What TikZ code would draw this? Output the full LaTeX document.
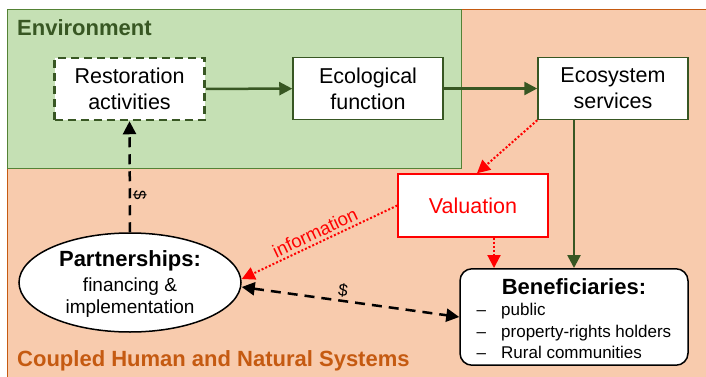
\documentclass[tikz,border=0pt]{standalone}
\usepackage{fontspec}
\setmainfont{Liberation Sans}
\usetikzlibrary{arrows.meta,shapes.geometric}

\definecolor{envgreen}{HTML}{C5E0B4}
\definecolor{envline}{HTML}{548235}
\definecolor{darkgreen}{HTML}{385723}
\definecolor{chnsfill}{HTML}{F8CBAD}
\definecolor{chnstext}{HTML}{C55A11}

\begin{document}
\begin{tikzpicture}[
    x=1pt, y=-1pt,
    >={Triangle[length=13pt,width=13pt]},
    procbox/.style={rectangle, draw=darkgreen, line width=1.5pt, fill=white, minimum width=150pt, minimum height=62pt, inner sep=0pt, align=center, font=\fontsize{21.5}{26}\selectfont},
    flow/.style={->, draw=darkgreen, line width=2.5pt},
    money/.style={line width=2.5pt, dash pattern=on 10pt off 7pt},
    info/.style={->, red, line width=2pt, dash pattern=on 2pt off 2pt},
    syslabel/.style={font=\fontsize{22}{26}\selectfont\bfseries, anchor=west, inner sep=0pt},
    dollar/.style={font=\fontsize{17}{20}\selectfont, sloped, inner sep=2pt}
]
\useasboundingbox (0,0) rectangle (706,377);

% Systeme: Mensch und Natur / Umwelt
\fill[chnsfill] (7,10) rectangle (706,377);
\draw[chnstext, line width=1pt] (7,377) -- (7,10) -- (706,10);
\filldraw[fill=envgreen, draw=envline, line width=1pt] (7,10) rectangle (461,168);

\node[syslabel, text=darkgreen] (envlabel) at (17,28) {Environment};
\node[syslabel, text=chnstext] (chnslabel) at (17,361) {Coupled Human and Natural Systems};

% Kette der Oekosystemleistungen
\node[procbox, dash pattern=on 8pt off 5pt, line width=2.5pt] (restoration) at (129.5,89) {Restoration\\activities};
\node[procbox] (ecofunc) at (368,88.5) {Ecological\\function};
\node[procbox] (ecoserv) at (613,88.5) {Ecosystem\\services};
\node[procbox, draw=red, text=red, minimum height=63pt] (valuation) at (473,205.5) {Valuation};

% Akteure
\node[ellipse, draw, line width=1.5pt, fill=white, minimum width=222pt, minimum height=99pt, inner sep=0pt, align=center, font=\fontsize{19}{22.5}\selectfont] (partners) at (130,282.5)
  {\rule{0pt}{19pt}{\fontsize{22}{22.5}\selectfont\bfseries Partnerships:}\\[2pt]financing \&\\implementation};
\node[rectangle, rounded corners=12pt, draw, line width=1.5pt, fill=white, minimum width=228pt, minimum height=96pt, inner sep=0pt, align=center, font=\fontsize{17}{21.5}\selectfont] (benef) at (574,317)
  {\rule{0pt}{26pt}{\fontsize{22}{21.5}\selectfont\bfseries Beneficiaries:}\\[-0.5pt]
   \begin{tabular}[t]{@{}l@{\hspace{15pt}}l@{}}
   --&public\\
   --&property-rights holders\\
   --&Rural communities
   \end{tabular}};

% Pfeile
\draw[flow] (restoration) -- (ecofunc);
\draw[flow] (ecofunc) -- (ecoserv);
\draw[flow] (benef.north |- ecoserv.south) -- (benef.north);

\draw[info] (ecoserv.south west) -- ([xshift=4pt]valuation.north);
\draw[info] ([xshift=21pt]valuation.south) -- ([xshift=21pt]valuation.south |- benef.north);
\draw[info] (valuation.west) -- node[sloped, above, inner sep=3pt, font=\fontsize{18.5}{20}\selectfont] (infolabel) {information} ([yshift=3.5pt]partners.east);

\draw[money, <->] ([yshift=-4.5pt]partners.east) -- node[dollar, above, pos=0.46] (dollarb) {\$} (benef.west);
\draw[money, ->] (partners.north) -- node[dollar, above, pos=0.33] (dollara) {\$} (restoration.south);

\end{tikzpicture}
\end{document}
